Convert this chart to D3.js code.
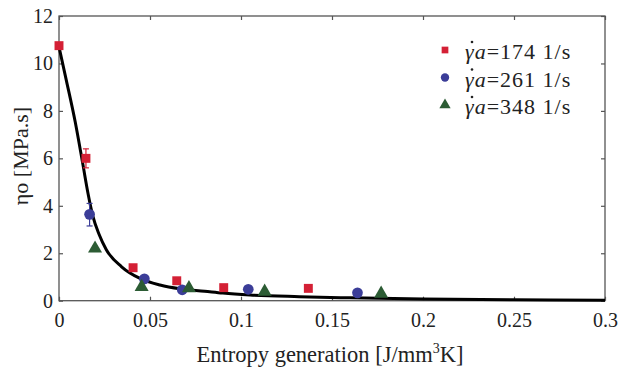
<!DOCTYPE html>
<html>
<head>
<meta charset="utf-8">
<script src="https://cdn.jsdelivr.net/npm/d3@7"></script>
<style>
  body { margin: 0; background: #fff; }
  svg text { font-family: "Liberation Serif", "Times New Roman", Times, serif; }
</style>
</head>
<body>
<svg width="618" height="370"></svg>
<script>
// readings from the figure
var xTicks = [0, 0.05, 0.1, 0.15, 0.2, 0.25, 0.3];
var xTickLabels = ["0", "0.05", "0.1", "0.15", "0.2", "0.25", "0.3"];
var yTicks = [0, 2, 4, 6, 8, 10, 12];

var series = ["174", "261", "348"];

var sx174 = [0, 0.0148, 0.0407, 0.0647, 0.0905, 0.137];
var sy174 = [10.75, 6.0, 1.39, 0.84, 0.55, 0.52];

var sx261 = [0.0168, 0.0469, 0.0677, 0.104, 0.164];
var sy261 = [3.64, 0.92, 0.46, 0.48, 0.33];

var sx348 = [0.0198, 0.0454, 0.0714, 0.113, 0.177];
var sy348 = [2.2, 0.58, 0.53, 0.38, 0.3];

// error bars (x, low, high)
var errX = [0.0148, 0.0168];
var errLo = [5.6, 3.15];
var errHi = [6.4, 4.1];

// fitted curve
var fitX = [0, 0.004, 0.009, 0.013, 0.016, 0.0185, 0.022, 0.026, 0.0344, 0.0445, 0.0555, 0.0665, 0.08, 0.09, 0.105, 0.132, 0.16, 0.2, 0.25, 0.3];
var fitY = [10.7, 9.3, 7.5, 5.8, 4.5, 3.6, 2.8, 2.15, 1.43, 0.94, 0.66, 0.5, 0.4, 0.32, 0.24, 0.17, 0.12, 0.07, 0.04, 0.02];

var svg = d3.select("svg"),
    width = +svg.attr("width"),
    height = +svg.attr("height");

var mLeft = 59, mRight = 605, mTop = 16, mBottom = 300.7;

var x = d3.scaleLinear().domain([0, 0.3]).range([mLeft, mRight]);
var y = d3.scaleLinear().domain([0, 12]).range([mBottom, mTop]);

var axisColor = "#555";
var serif = "'Liberation Serif', 'Times New Roman', Times, serif";

// frame
svg.append("rect")
    .attr("x", mLeft).attr("y", mTop)
    .attr("width", mRight - mLeft).attr("height", mBottom - mTop)
    .attr("fill", "none").attr("stroke", axisColor).attr("stroke-width", 1.3);

// inner ticks on all four sides
var xAx = svg.append("g").attr("transform", "translate(0," + mBottom + ")")
    .call(d3.axisBottom(x).tickValues(xTicks).tickSizeInner(-4).tickSizeOuter(0)
        .tickPadding(12).tickFormat(function (d, i) { return xTickLabels[i]; }));
var xTop = svg.append("g").attr("transform", "translate(0," + mTop + ")")
    .call(d3.axisTop(x).tickValues(xTicks).tickSizeInner(-4).tickSizeOuter(0).tickFormat(""));
var yAx = svg.append("g").attr("transform", "translate(" + mLeft + ",0)")
    .call(d3.axisLeft(y).tickValues(yTicks).tickSizeInner(-4).tickSizeOuter(0).tickPadding(6));
var yRight = svg.append("g").attr("transform", "translate(" + mRight + ",0)")
    .call(d3.axisRight(y).tickValues(yTicks).tickSizeInner(-4).tickSizeOuter(0).tickFormat(""));

[xAx, xTop, yAx, yRight].forEach(function (g) {
    g.attr("font-family", null);
    g.select(".domain").remove();
    g.selectAll(".tick line").attr("stroke", axisColor).attr("stroke-width", 1.2);
    g.selectAll("text").attr("fill", "#222").style("font-size", "20px")
        .style("font-family", serif);
});

// axis titles
var xt = svg.append("text")
    .attr("x", 330).attr("y", 362)
    .attr("text-anchor", "middle")
    .attr("fill", "#222")
    .style("font-family", serif)
    .style("font-size", "22.5px");
xt.append("tspan").text("Entropy generation [J/mm");
xt.append("tspan").attr("dy", -9).style("font-size", "14px").text("3");
xt.append("tspan").attr("dy", 9).text("K]");

svg.append("text")
    .attr("transform", "translate(28,156) rotate(-90)")
    .attr("text-anchor", "middle")
    .attr("fill", "#222")
    .style("font-family", serif)
    .style("font-size", "22px")
    .text("ηo [MPa.s]");

var colors = { "174": "#d42035", "261": "#3b3d98", "348": "#2c5c34" };

// fitted line
var fit = fitX.map(function (d, i) { return [d, fitY[i]]; });
svg.append("path")
    .datum(fit)
    .attr("fill", "none")
    .attr("stroke", "#000")
    .attr("stroke-width", 3)
    .attr("d", d3.line()
        .x(function (d) { return x(d[0]); })
        .y(function (d) { return y(d[1]); })
        .curve(d3.curveMonotoneX));

// error bars
var eb = svg.append("g");
errX.forEach(function (ex, i) {
    var c = i === 0 ? colors["174"] : colors["261"];
    eb.append("line")
        .attr("x1", x(ex)).attr("x2", x(ex))
        .attr("y1", y(errLo[i])).attr("y2", y(errHi[i]))
        .attr("stroke", c).attr("stroke-width", 1.2);
    [errLo[i], errHi[i]].forEach(function (v) {
        eb.append("line")
            .attr("x1", x(ex) - 3).attr("x2", x(ex) + 3)
            .attr("y1", y(v)).attr("y2", y(v))
            .attr("stroke", c).attr("stroke-width", 1.2);
    });
});

var sym = {
    "174": d3.symbol().type(d3.symbolSquare).size(80),
    "261": d3.symbol().type(d3.symbolCircle).size(90),
    "348": d3.symbol().type(d3.symbolTriangle).size(85)
};

function drawPoints(xs, ys, key) {
    var pts = xs.map(function (d, i) { return [d, ys[i]]; });
    svg.append("g").selectAll("path")
        .data(pts)
        .enter()
        .append("path")
        .attr("transform", function (d) { return "translate(" + x(d[0]) + "," + y(d[1]) + ")"; })
        .attr("d", sym[key]())
        .attr("fill", colors[key]);
}

drawPoints(sx174, sy174, "174");
drawPoints(sx261, sy261, "261");
drawPoints(sx348, sy348, "348");

// legend
var leg = svg.append("g");
series.forEach(function (s, i) {
    var ly = 50 + i * 27.5;
    leg.append("path")
        .attr("transform", "translate(445," + ly + ")")
        .attr("d", d3.symbol().type(sym[s].type()).size(i === 0 ? 45 : 55)())
        .attr("fill", colors[s]);
    var t = leg.append("text")
        .attr("x", 465).attr("y", ly + 9)
        .attr("fill", "#222")
        .style("font-family", serif)
        .style("font-size", "22px")
        .style("letter-spacing", "1px");
    t.append("tspan").style("font-style", "italic").text("γa");
    t.append("tspan").text("=" + s + " 1/s");
    // dot over gamma
    leg.append("circle")
        .attr("cx", 472).attr("cy", ly - 8)
        .attr("r", 1.3)
        .attr("fill", "#222");
});
</script>
</body>
</html>
